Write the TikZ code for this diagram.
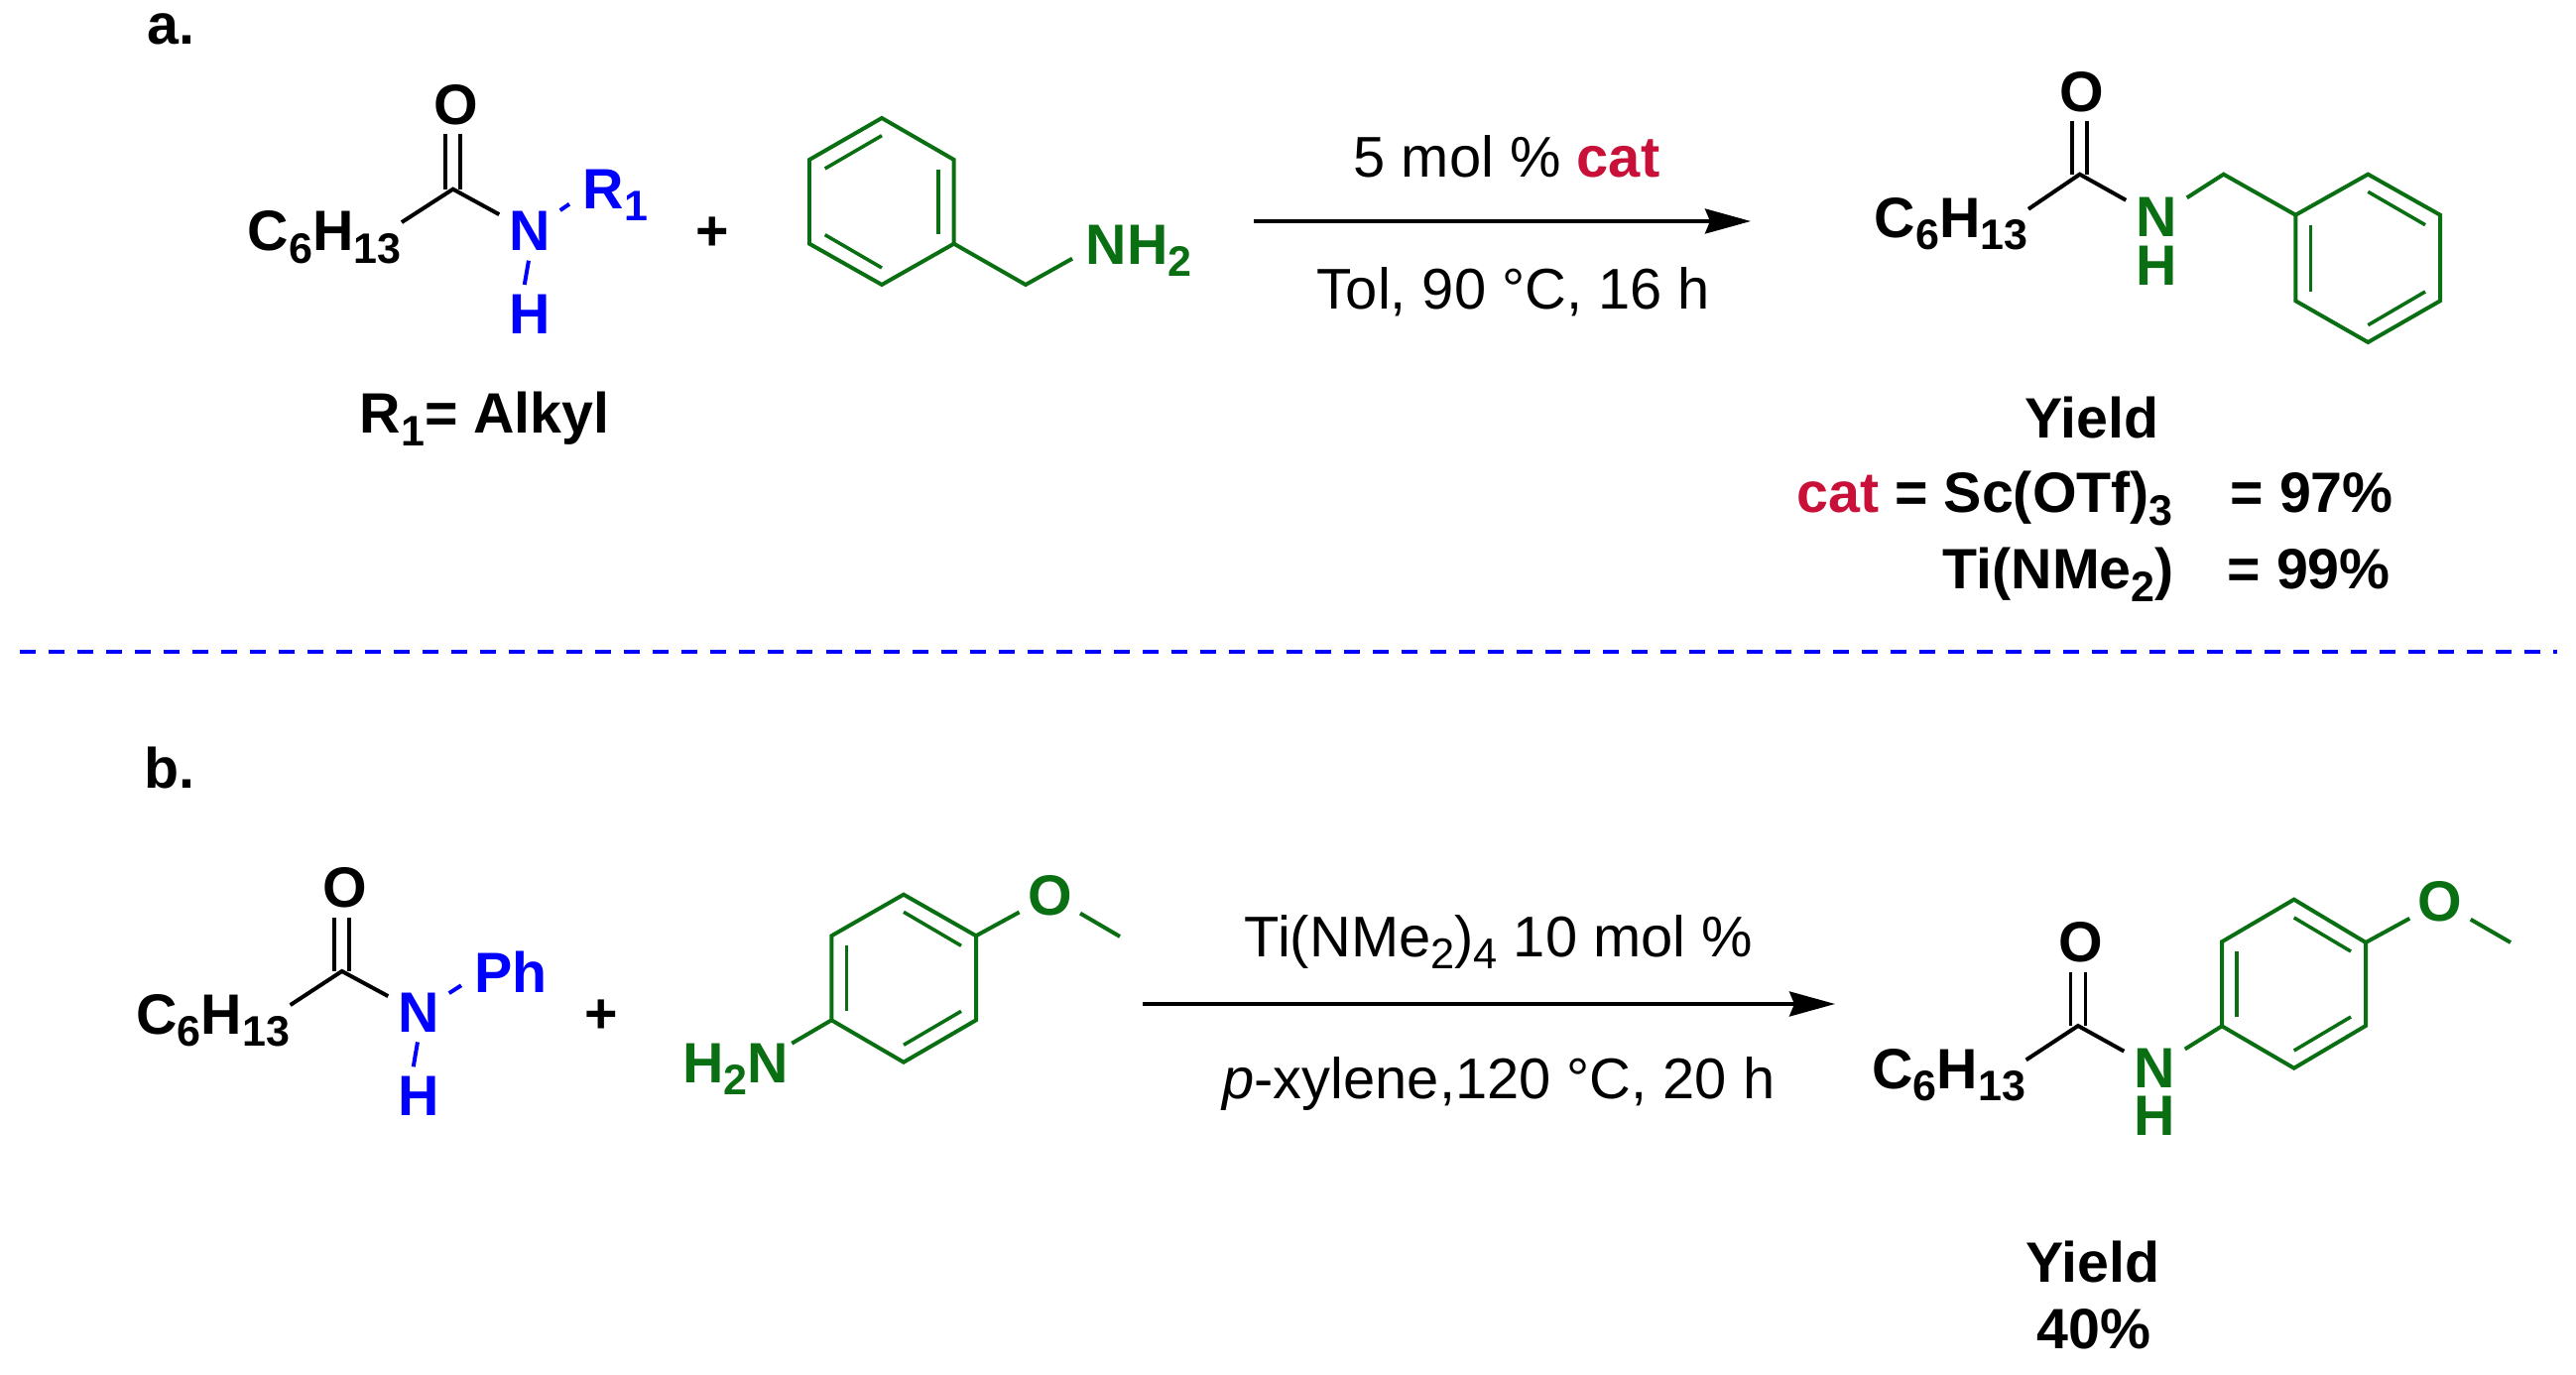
\documentclass[tikz,border=0pt]{standalone}
\usepackage{fontspec}
\setmainfont{Liberation Sans}
\usetikzlibrary{arrows.meta}
\definecolor{prodgreen}{RGB}{10,110,18}
\definecolor{catred}{RGB}{200,16,56}
\newcommand{\subs}[1]{\raisebox{-0.21em}{\scalebox{0.75}{#1}}}
\tikzset{
  lab/.style={inner sep=0pt,font=\fontsize{16.3}{19}\selectfont\bfseries,anchor=base west},
  cond/.style={inner sep=0pt,font=\fontsize{16.45}{19}\selectfont,anchor=base},
  atom/.style={inner sep=0pt,font=\fontsize{16.3}{19}\selectfont\bfseries,minimum width=0.6cm,minimum height=0.58cm},
  bond/.style={line width=1.13pt,line join=miter},
  inbond/.style={line width=1pt},
  dbl/.style={line width=1pt,double,double distance=0.115cm},
  rxn/.style={line width=1pt,-{Stealth[length=0.46cm,width=0.25cm,inset=0.05cm]}}
}
\begin{document}
\begin{tikzpicture}[x=0.01cm,y=-0.01cm]
\useasboundingbox (0,0) rectangle (2597,1386);

\node[lab] (labA) at (148,45) {a.};
\node[lab] (labB) at (145,795) {b.};

\node[lab] (amAlk) at (249,253) {C\subs{6}H\subs{13}};
\coordinate (amC) at (456.7,190.7);
\node[atom] (amO) at (459.3,105.7) {O};
\node[atom,blue] (amN) at (534,233) {N};
\node[atom,blue] (amH) at (534,316.7) {H};
\node[lab,blue] (amR) at (587,210.7) {R\subs{1}};
\coordinate (amRb) at (574,205.7);
\draw[dbl] (amC) -- (amC |- amO.south);
\draw[bond] (amAlk.11) -- (amC) -- (amN);
\draw[bond,blue] (amN) -- (amRb);
\draw[bond,blue] (amN.-92) -- (amH.100);
\node[lab] (amDef) at (362,437) {R\subs{1}= Alkyl};
\node[lab,anchor=center] (plusA) at (718.3,235.7) {+};

\coordinate (bz1) at (889,119); \coordinate (bz2) at (961.7,161); \coordinate (bz3) at (961.7,245.7);
\coordinate (bz4) at (889,287); \coordinate (bz5) at (816,245.7); \coordinate (bz6) at (816,161);
\coordinate (bzA) at (831.7,170); \coordinate (bzB) at (889,136.7);
\coordinate (bzC) at (946,170.7); \coordinate (bzD) at (946,236);
\coordinate (bzE) at (831.7,236.7); \coordinate (bzF) at (889,270);
\coordinate (bzCH) at (1034,287); \coordinate (bzNb) at (1081,260.7);
\node[lab,prodgreen] (bzNH) at (1094,266.7) {NH\subs{2}};
\draw[bond,prodgreen] (bz1) -- (bz2) -- (bz3) -- (bz4) -- (bz5) -- (bz6) -- cycle;
\draw[inbond,prodgreen] (bzA) -- (bzB);
\draw[inbond,prodgreen] (bzC) -- (bzD);
\draw[inbond,prodgreen] (bzE) -- (bzF);
\draw[bond,prodgreen] (bz3) -- (bzCH) -- (bzNb);

\coordinate (arrAs) at (1264,223);
\coordinate (arrAe) at (1765,223);
\draw[rxn] (arrAs) -- (arrAe);
\node[cond] (condAt) at (1519,178.7) {5 mol \% \textcolor{catred}{\bfseries cat}};
\node[cond] (condAb) at (1526,312) {Tol, 90 °C, 16 h};

\node[lab] (prAlk) at (1889,239.7) {C\subs{6}H\subs{13}};
\coordinate (prC) at (2096.7,175.7);
\node[atom] (prO) at (2098.3,92.7) {O};
\node[atom,prodgreen] (prN) at (2174,219) {N};
\node[atom,prodgreen] (prH) at (2174,267.7) {H};
\draw[dbl] (prC) -- (prC |- prO.south);
\draw[bond] (prAlk.11) -- (prC) -- (prN);
\coordinate (prCH) at (2241.7,175.7);
\coordinate (pr1) at (2314.3,216.7); \coordinate (pr2) at (2387.3,175.7); \coordinate (pr3) at (2460,216.7);
\coordinate (pr4) at (2460,303.3); \coordinate (pr5) at (2387.3,345); \coordinate (pr6) at (2314.3,303.3);
\coordinate (prA) at (2387.3,193.3); \coordinate (prB) at (2445,226.7);
\coordinate (prD) at (2329.7,227.3); \coordinate (prE) at (2329.7,294.3);
\coordinate (prF) at (2445,294); \coordinate (prG) at (2387.3,327.7);
\draw[bond,prodgreen] (prN) -- (prCH) -- (pr1);
\draw[bond,prodgreen] (pr1) -- (pr2) -- (pr3) -- (pr4) -- (pr5) -- (pr6) -- cycle;
\draw[inbond,prodgreen] (prA) -- (prB);
\draw[inbond,prodgreen] (prD) -- (prE);
\draw[inbond,prodgreen] (prF) -- (prG);

\node[lab,anchor=base] (yldA) at (2109,441.5) {Yield};
\node[lab] (catSc) at (1811,517) {\textcolor{catred}{cat} = Sc(OTf)\subs{3}};
\node[lab] (valSc) at (2248,517) {= 97\%};
\node[lab] (catTi) at (1958,594) {Ti(NMe\subs{2})};
\node[lab] (valTi) at (2245,594) {= 99\%};

\coordinate (sepL) at (20,657);
\coordinate (sepR) at (2578,657);
\draw[blue,line width=1.1pt,dash pattern=on 0.16cm off 0.13cm] (sepL) -- (sepR);

\node[lab] (anAlk) at (136.7,1042) {C\subs{6}H\subs{13}};
\coordinate (anC) at (344.7,979);
\node[atom] (anO) at (347.3,895) {O};
\node[atom,blue] (anN) at (422,1020.7) {N};
\node[atom,blue] (anH) at (422,1105) {H};
\node[lab,blue] (anPh) at (477.7,1000) {Ph};
\coordinate (anPb) at (465,993.3);
\draw[dbl] (anC) -- (anC |- anO.south);
\draw[bond] (anAlk.11) -- (anC) -- (anN);
\draw[bond,blue] (anN) -- (anPb);
\draw[bond,blue] (anN.-92) -- (anH.100);
\node[lab,anchor=center] (plusB) at (606.7,1024.3) {+};

\coordinate (ar1) at (838.3,943.3); \coordinate (ar2) at (911,901.7); \coordinate (ar3) at (984,943.3);
\coordinate (ar4) at (984,1028.3); \coordinate (ar5) at (911,1070.7); \coordinate (ar6) at (838.3,1028.3);
\coordinate (arA) at (911,919.3); \coordinate (arB) at (969,953.3);
\coordinate (arC) at (853.3,952.7); \coordinate (arD) at (853.3,1019.3);
\coordinate (arE) at (911,1053.3); \coordinate (arF) at (969,1019.3);
\coordinate (arNb) at (798.3,1051.7); \coordinate (arMe) at (1129,944);
\node[atom,prodgreen] (arO) at (1058.3,902.7) {O};
\node[lab,prodgreen] (arNH) at (687.7,1091.7) {H\subs{2}N};
\draw[bond,prodgreen] (ar1) -- (ar2) -- (ar3) -- (ar4) -- (ar5) -- (ar6) -- cycle;
\draw[inbond,prodgreen] (arA) -- (arB);
\draw[inbond,prodgreen] (arC) -- (arD);
\draw[inbond,prodgreen] (arE) -- (arF);
\draw[bond,prodgreen] (ar6) -- (arNb);
\draw[bond,prodgreen] (ar3) -- (arO) -- (arMe);

\coordinate (arrBs) at (1152,1012);
\coordinate (arrBe) at (1850,1012);
\draw[rxn] (arrBs) -- (arrBe);
\node[cond] (condBt) at (1511,964.7) {Ti(NMe\subs{2})\subs{4} 10 mol \%};
\node[cond] (condBb) at (1511,1107.7) {\textit{p}-xylene,120 °C, 20 h};

\node[lab] (psAlk) at (1886.7,1097.3) {C\subs{6}H\subs{13}};
\coordinate (psC) at (2095,1034);
\node[atom] (psO) at (2097.3,950) {O};
\node[atom,prodgreen] (psN) at (2172,1076.7) {N};
\node[atom,prodgreen] (psH) at (2172,1125) {H};
\draw[dbl] (psC) -- (psC |- psO.south);
\draw[bond] (psAlk.11) -- (psC) -- (psN);
\coordinate (ps1) at (2240,949.3); \coordinate (ps2) at (2312.7,906.7); \coordinate (ps3) at (2385,950);
\coordinate (ps4) at (2385,1034); \coordinate (ps5) at (2312.7,1076.7); \coordinate (ps6) at (2240,1034.3);
\coordinate (psA) at (2312.7,925); \coordinate (psB) at (2370,959);
\coordinate (psD) at (2255,959.3); \coordinate (psE) at (2255,1025);
\coordinate (psF) at (2370,1025); \coordinate (psG) at (2312.7,1059);
\coordinate (psMe) at (2531,950);
\node[atom,prodgreen] (psOx) at (2460,909) {O};
\draw[bond,prodgreen] (ps1) -- (ps2) -- (ps3) -- (ps4) -- (ps5) -- (ps6) -- cycle;
\draw[inbond,prodgreen] (psA) -- (psB);
\draw[inbond,prodgreen] (psD) -- (psE);
\draw[inbond,prodgreen] (psF) -- (psG);
\draw[bond,prodgreen] (psN) -- (ps6);
\draw[bond,prodgreen] (ps3) -- (psOx) -- (psMe);

\node[lab,anchor=base] (yldB) at (2110,1292) {Yield};
\node[lab,anchor=base] (valB) at (2111,1359) {40\%};
\end{tikzpicture}
\end{document}
